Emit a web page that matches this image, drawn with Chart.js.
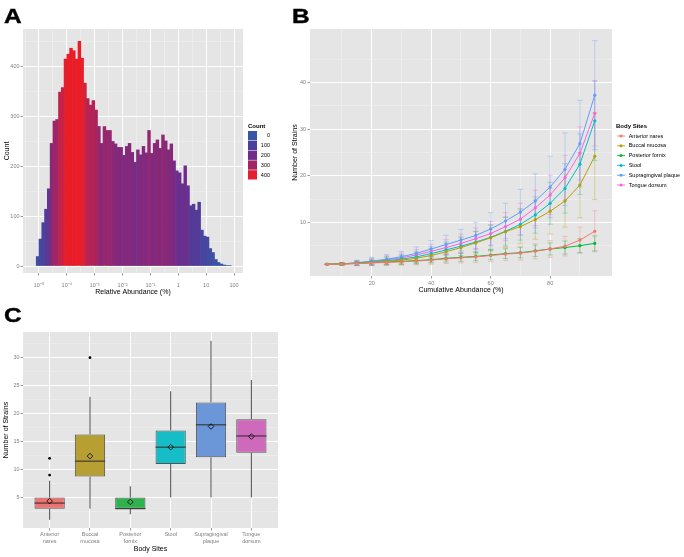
<!DOCTYPE html>
<html>
<head>
<meta charset="utf-8">
<script src="https://cdn.jsdelivr.net/npm/chart.js@4.4.0/dist/chart.umd.min.js"></script>
<style>
  body { margin: 0; width: 684px; height: 557px; background: #fff; position: relative; overflow: hidden; font-family: "Liberation Sans", Arial, sans-serif; }
  canvas { position: absolute; }
  .tag { position: absolute; font-weight: bold; font-size: 20px; line-height: 20px; color: #000;
         transform: scaleX(1.22); transform-origin: left top; -webkit-text-stroke: 0.4px #000; }
</style>
</head>
<body>
<canvas id="histChart" width="300" height="300" style="left:0;top:0"></canvas>
<canvas id="curveChart" width="404" height="300" style="left:280px;top:0"></canvas>
<canvas id="boxChart" width="300" height="262" style="left:0;top:295px"></canvas>
<div class="tag" style="left:4px;top:6px">A</div>
<div class="tag" style="left:292px;top:6px">B</div>
<div class="tag" style="left:4px;top:305px">C</div>
<script>
// ---------- A: histogram of relative abundance (bin centres in log10 %)
const abundanceBins = [-5.05, -4.95, -4.85, -4.75, -4.65, -4.55, -4.45, -4.35, -4.25, -4.15,
  -4.05, -3.95, -3.85, -3.75, -3.65, -3.55, -3.45, -3.35, -3.25, -3.15,
  -3.05, -2.95, -2.85, -2.75, -2.65, -2.55, -2.45, -2.35, -2.25, -2.15,
  -2.05, -1.95, -1.85, -1.75, -1.65, -1.55, -1.45, -1.35, -1.25, -1.15,
  -1.05, -0.95, -0.85, -0.75, -0.65, -0.55, -0.45, -0.35, -0.25, -0.15,
  -0.05, 0.05, 0.15, 0.25, 0.35, 0.45, 0.55, 0.65, 0.75, 0.85,
  0.95, 1.05, 1.15, 1.25, 1.35, 1.45, 1.55, 1.65, 1.75, 1.85];
const abundanceCounts = [19, 54, 87, 114, 155, 246, 291, 294, 349, 358,
  415, 425, 437, 432, 415, 451, 417, 367, 336, 323,
  332, 313, 280, 246, 280, 272, 272, 250, 245, 238,
  238, 222, 240, 246, 228, 208, 233, 223, 240, 227,
  272, 226, 246, 253, 236, 263, 251, 233, 245, 211,
  191, 187, 165, 201, 161, 121, 124, 112, 128, 72,
  60, 58, 35, 27, 13, 7, 4, 2, 1, 1];
const abundanceTicks = [-5, -4, -3, -2, -1, 0, 1, 2];
const abundanceTickLabels = ['10⁻⁵', '10⁻⁴', '10⁻³', '10⁻²', '10⁻¹', '1', '10', '100'];
const countTicks = [0, 100, 200, 300, 400];
const countLegendBreaks = [0, 100, 200, 300, 400];

// ---------- B: strains vs cumulative abundance
const cumAbundance = [5, 10, 15, 20, 25, 30, 35, 40, 45, 50, 55, 60, 65, 70, 75, 80, 85, 90, 95];
const naresMean  = [1.0, 1.05, 1.15, 1.3, 1.4, 1.55, 1.7, 1.9, 2.2, 2.4, 2.6, 2.9, 3.2, 3.4, 3.8, 4.3, 4.9, 6.2, 8.1];
const naresSd    = [0, 0.2, 0.4, 0.5, 0.6, 0.7, 0.8, 0.9, 1.0, 1.1, 1.2, 1.3, 1.4, 1.5, 1.6, 1.8, 2.1, 2.8, 4.4];
const buccalMean = [1.0, 1.1, 1.2, 1.4, 1.65, 1.9, 2.3, 2.9, 3.7, 4.6, 5.6, 6.7, 8.0, 9.1, 10.6, 12.4, 14.6, 18.0, 24.2];
const buccalSd   = [0, 0.3, 0.5, 0.65, 0.85, 1.0, 1.2, 1.5, 1.8, 2.1, 2.4, 2.8, 3.2, 3.6, 4.2, 4.9, 5.6, 7.0, 9.3];
const fornixMean = [1.0, 1.1, 1.2, 1.35, 1.5, 1.65, 1.8, 2.0, 2.3, 2.5, 2.7, 3.0, 3.3, 3.5, 3.9, 4.3, 4.6, 5.0, 5.5];
const fornixSd   = [0, 0.2, 0.35, 0.45, 0.5, 0.6, 0.65, 0.7, 0.8, 0.85, 0.9, 1.0, 1.05, 1.1, 1.2, 1.3, 1.4, 1.5, 1.6];
const stoolMean  = [1.0, 1.1, 1.25, 1.5, 1.8, 2.1, 2.6, 3.3, 4.1, 4.9, 5.8, 6.8, 8.1, 9.6, 11.6, 14.1, 17.3, 22.5, 31.8];
const stoolSd    = [0, 0.3, 0.5, 0.65, 0.85, 1.0, 1.2, 1.5, 1.7, 2.0, 2.3, 2.6, 3.0, 3.4, 3.9, 4.5, 5.3, 6.5, 8.5];
const plaqueMean = [1.0, 1.1, 1.35, 1.7, 2.1, 2.65, 3.35, 4.3, 5.25, 6.2, 7.2, 8.6, 10.3, 12.2, 14.6, 17.6, 21.4, 26.9, 37.3];
const plaqueSd   = [0, 0.3, 0.55, 0.8, 1.0, 1.1, 1.4, 1.8, 2.0, 2.3, 2.8, 3.5, 3.8, 4.9, 5.8, 6.6, 7.8, 9.3, 11.7];
const tongueMean = [1.0, 1.1, 1.3, 1.6, 1.95, 2.4, 3.0, 3.8, 4.6, 5.5, 6.5, 7.6, 9.1, 10.7, 13.1, 15.9, 19.6, 24.8, 33.4];
const tongueSd   = [0, 0.3, 0.5, 0.7, 0.9, 1.0, 1.2, 1.5, 1.7, 2.0, 2.3, 2.6, 3.0, 3.4, 3.8, 4.2, 4.8, 5.7, 7.0];
const cumTicks = [20, 40, 60, 80];
const strainTicks = [10, 20, 30, 40];

// ---------- C: strains per body site (boxplot)
const sites = ['Anterior nares', 'Buccal mucosa', 'Posterior fornix', 'Stool', 'Supragingival plaque', 'Tongue dorsum'];
const siteLow    = [1, 3, 2, 5, 5, 5];
const siteQ1     = [3, 8.75, 3, 11, 12.2, 13];
const siteMedian = [4, 11.5, 3, 14, 18, 16];
const siteQ3     = [5, 16.25, 5, 17, 22, 19];
const siteHigh   = [8, 23, 7, 24, 33, 26];
const siteMean   = [4.35, 12.4, 4.2, 14.0, 17.7, 15.9];
const outlierSite  = [1, 1, 2];
const outlierValue = [9, 12, 30];
const boxTicks = [5, 10, 15, 20, 25, 30];

const siteColors = ['#F8766D', '#B79F00', '#00BA38', '#00BFC4', '#619CFF', '#F564E3'];
const boxFills = ['#EE7370', '#B89F33', '#2FB14E', '#17BDC6', '#6B97D8', '#CE69BC'];
const FONT = '"Liberation Sans", Arial, sans-serif';
Chart.defaults.font.family = FONT;

// colour ramp for the histogram fill (ggplot style gradient)
const countStops = [[0, [58, 85, 165]], [100, [76, 63, 156]], [200, [113, 44, 139]], [300, [161, 37, 100]], [400, [226, 32, 47]], [451, [237, 28, 36]]];
function countColor(v) {
  for (let i = 1; i < countStops.length; i++) {
    const [v0, c0] = countStops[i - 1], [v1, c1] = countStops[i];
    if (v <= v1) {
      const t = (v - v0) / (v1 - v0);
      return 'rgb(' + c0.map((c, k) => Math.round(c + (c1[k] - c) * t)).join(',') + ')';
    }
  }
  return 'rgb(237,28,36)';
}
function alpha(hex, a) {
  const n = parseInt(hex.slice(1), 16);
  return `rgba(${n >> 16},${(n >> 8) & 255},${n & 255},${a})`;
}

// ggplot-like axis: grey panel, white major and pale minor grid lines
function ggScale(o) {
  const all = o.major.concat(o.minor).sort((a, b) => a - b);
  const isMajor = v => o.major.includes(v);
  const maj = c => (c && c.tick) ? isMajor(c.tick.value) : true;
  return {
    type: 'linear', min: o.min, max: o.max, offset: false,
    afterBuildTicks: s => { s.ticks = all.map(v => ({ value: v })); },
    afterFit: s => {
      if (o.horizontal) s.height = o.size; else s.width = o.size;
      s.paddingLeft = s.paddingRight = s.paddingTop = s.paddingBottom = 0;
    },
    border: { display: false },
    grid: {
      offset: false,
      color: c => maj(c) ? '#FFFFFF' : '#F2F2F2',
      lineWidth: c => maj(c) ? 1 : 0.5,
      tickColor: c => maj(c) ? '#7F7F7F' : 'rgba(0,0,0,0)',
      tickLength: 2.5, tickWidth: 0.8
    },
    ticks: {
      autoSkip: false, maxRotation: 0, minRotation: 0, padding: o.labelPad,
      color: '#7F7F7F', font: { size: 5.5, lineHeight: 1.33 },
      callback: v => isMajor(v) ? o.label(v) : ''
    },
    title: { display: true, text: o.title, color: '#000', font: { size: 7 }, padding: o.titlePad }
  };
}

const panelBg = {
  id: 'panelBg',
  beforeDraw(chart) {
    const { ctx, chartArea: a } = chart;
    ctx.save();
    ctx.fillStyle = '#E5E5E5';
    ctx.fillRect(a.left, a.top, a.right - a.left, a.bottom - a.top);
    ctx.restore();
  }
};

const baseOptions = {
  responsive: false, animation: false, events: [], devicePixelRatio: 1,
  plugins: { legend: { display: false }, tooltip: { enabled: false } }
};

// ---------- A
const countLegend = {
  id: 'countLegend',
  afterDraw(chart) {
    const ctx = chart.ctx;
    ctx.save();
    ctx.textBaseline = 'middle';
    ctx.fillStyle = '#000';
    ctx.font = 'bold 6px ' + FONT;
    ctx.fillText('Count', 248, 126);
    ctx.font = '5.5px ' + FONT;
    countLegendBreaks.forEach((b, i) => {
      const top = 131 + i * 9.8;
      ctx.fillStyle = countColor(b);
      ctx.fillRect(248, top, 9, 9.3);
      ctx.fillStyle = '#000';
      ctx.textAlign = 'right';
      ctx.fillText(String(b), 270, top + 4.9);
    });
    ctx.restore();
  }
};

new Chart(document.getElementById('histChart'), {
  type: 'bar',
  data: {
    datasets: [{
      data: abundanceBins.map((x, i) => ({ x, y: abundanceCounts[i] })),
      backgroundColor: abundanceCounts.map(countColor),
      borderWidth: 0, barPercentage: 1, categoryPercentage: 1, grouped: false
    }]
  },
  options: Object.assign({}, baseOptions, {
    layout: { padding: { left: 0, top: 29, right: 57, bottom: 0 } },
    scales: {
      x: ggScale({ min: -5.574, max: 2.323, major: abundanceTicks, minor: [-5.5, -4.5, -3.5, -2.5, -1.5, -0.5, 0.5, 1.5],
        label: v => abundanceTickLabels[abundanceTicks.indexOf(v)], horizontal: true, size: 27, labelPad: 6.5,
        title: 'Relative Abundance (%)', titlePad: { bottom: 3.8 } }),
      y: ggScale({ min: -14, max: 475.6, major: countTicks, minor: [50, 150, 250, 350, 450],
        label: v => String(v), size: 23, labelPad: 1, title: 'Count', titlePad: { top: 2.5 } })
    }
  }),
  plugins: [panelBg, countLegend]
});

// ---------- B
const siteSeries = [
  { name: sites[0], mean: naresMean, sd: naresSd, color: siteColors[0] },
  { name: sites[1], mean: buccalMean, sd: buccalSd, color: siteColors[1] },
  { name: sites[2], mean: fornixMean, sd: fornixSd, color: siteColors[2] },
  { name: sites[3], mean: stoolMean, sd: stoolSd, color: siteColors[3] },
  { name: sites[4], mean: plaqueMean, sd: plaqueSd, color: siteColors[4] },
  { name: sites[5], mean: tongueMean, sd: tongueSd, color: siteColors[5] }
];

const errorBars = {
  id: 'errorBars',
  beforeDatasetsDraw(chart) {
    const { ctx, scales: { x, y } } = chart;
    ctx.save();
    ctx.lineWidth = 0.8;
    siteSeries.forEach(s => {
      ctx.strokeStyle = alpha(s.color, 0.45);
      cumAbundance.forEach((cx, i) => {
        const px = x.getPixelForValue(cx);
        const w = x.getPixelForValue(cx + 0.9) - px;
        const lo = y.getPixelForValue(s.mean[i] - s.sd[i]);
        const hi = y.getPixelForValue(s.mean[i] + s.sd[i]);
        ctx.beginPath();
        ctx.moveTo(px, lo); ctx.lineTo(px, hi);
        ctx.moveTo(px - w, lo); ctx.lineTo(px + w, lo);
        ctx.moveTo(px - w, hi); ctx.lineTo(px + w, hi);
        ctx.stroke();
      });
    });
    ctx.restore();
  }
};

const siteLegend = {
  id: 'siteLegend',
  afterDraw(chart) {
    const ctx = chart.ctx;
    ctx.save();
    ctx.textBaseline = 'middle';
    ctx.fillStyle = '#000';
    ctx.font = 'bold 6px ' + FONT;
    ctx.fillText('Body Sites', 336, 126.7);
    ctx.font = '5.5px ' + FONT;
    siteSeries.forEach((s, i) => {
      const yy = 136 + i * 9.8;
      ctx.strokeStyle = s.color; ctx.lineWidth = 0.9;
      ctx.beginPath(); ctx.moveTo(337, yy); ctx.lineTo(345, yy); ctx.stroke();
      ctx.fillStyle = s.color;
      ctx.beginPath(); ctx.arc(341, yy, 1.5, 0, Math.PI * 2); ctx.fill();
      ctx.fillStyle = '#000';
      ctx.fillText(s.name, 348.7, yy);
    });
    ctx.restore();
  }
};

new Chart(document.getElementById('curveChart'), {
  type: 'line',
  data: {
    datasets: siteSeries.map(s => ({
      label: s.name,
      data: cumAbundance.map((x, i) => ({ x, y: s.mean[i] })),
      borderColor: s.color, backgroundColor: s.color, borderWidth: 1,
      pointRadius: 1.6, pointBorderWidth: 0, pointBackgroundColor: s.color, tension: 0, fill: false
    }))
  },
  options: Object.assign({}, baseOptions, {
    layout: { padding: { left: 0, top: 29, right: 72, bottom: 0 } },
    scales: {
      x: ggScale({ min: -0.74, max: 100.8, major: cumTicks, minor: [10, 30, 50, 70, 90],
        label: v => String(v), horizontal: true, size: 24, labelPad: 1.2,
        title: 'Cumulative Abundance (%)', titlePad: { bottom: 6.1 } }),
      y: ggScale({ min: -1.5, max: 51.5, major: strainTicks, minor: [5, 15, 25, 35, 45],
        label: v => String(v), size: 30, labelPad: 1.5, title: 'Number of Strains', titlePad: { top: 11 } })
    }
  }),
  plugins: [panelBg, errorBars, siteLegend]
});

// ---------- C
const boxParts = {
  id: 'boxParts',
  beforeDatasetsDraw(chart) {
    const { ctx, scales: { x, y } } = chart;
    ctx.save();
    ctx.strokeStyle = '#4D4D4D'; ctx.lineWidth = 1;
    sites.forEach((s, i) => {
      const px = x.getPixelForValue(i + 1);
      ctx.beginPath();
      ctx.moveTo(px, y.getPixelForValue(siteLow[i])); ctx.lineTo(px, y.getPixelForValue(siteQ1[i]));
      ctx.moveTo(px, y.getPixelForValue(siteQ3[i])); ctx.lineTo(px, y.getPixelForValue(siteHigh[i]));
      ctx.stroke();
    });
    ctx.restore();
  },
  afterDatasetDraw(chart, args) {
    if (args.index !== 0) return;
    const { ctx, scales: { x, y } } = chart;
    ctx.save();
    ctx.strokeStyle = '#333333'; ctx.lineWidth = 1.1;
    sites.forEach((s, i) => {
      const l = x.getPixelForValue(i + 1 - 0.375), r = x.getPixelForValue(i + 1 + 0.375);
      const py = y.getPixelForValue(siteMedian[i]);
      ctx.beginPath(); ctx.moveTo(l, py); ctx.lineTo(r, py); ctx.stroke();
    });
    ctx.restore();
  }
};

new Chart(document.getElementById('boxChart'), {
  type: 'bar',
  data: {
    datasets: [
      {
        data: sites.map((s, i) => ({ x: i + 1, y: [siteQ1[i], siteQ3[i]] })),
        backgroundColor: boxFills, borderColor: '#555555', borderWidth: 1, borderSkipped: false,
        barPercentage: 0.75, categoryPercentage: 1, grouped: false, order: 3
      },
      {
        type: 'scatter',
        data: outlierSite.map((x, i) => ({ x, y: outlierValue[i] })),
        pointRadius: 1.4, pointBackgroundColor: '#000', pointBorderWidth: 0, order: 2
      },
      {
        type: 'scatter',
        data: sites.map((s, i) => ({ x: i + 1, y: siteMean[i] })),
        pointStyle: 'rectRot', pointRadius: 2.8, pointBorderColor: '#000', pointBorderWidth: 0.8,
        pointBackgroundColor: 'rgba(0,0,0,0)', order: 1
      }
    ]
  },
  options: Object.assign({}, baseOptions, {
    layout: { padding: { left: 0, top: 37, right: 22, bottom: 0 } },
    scales: {
      x: ggScale({ min: 0.34, max: 6.66, major: [1, 2, 3, 4, 5, 6], minor: [],
        label: v => sites[v - 1].split(' '), horizontal: true, size: 29, labelPad: 0.5,
        title: 'Body Sites', titlePad: { bottom: 3.5 } }),
      y: ggScale({ min: -0.46, max: 34.6, major: boxTicks, minor: [2.5, 7.5, 12.5, 17.5, 22.5, 27.5, 32.5],
        label: v => String(v), size: 23, labelPad: 1, title: 'Number of Strains', titlePad: { top: 1.8 } })
    }
  }),
  plugins: [panelBg, boxParts]
});
</script>
</body>
</html>
